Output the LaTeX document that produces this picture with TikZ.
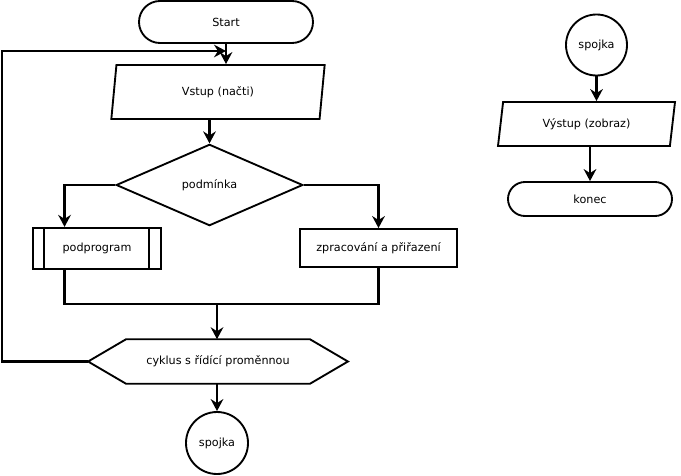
\documentclass[tikz,border=0pt]{standalone}
\usepackage{fontspec}
\setmainfont{DejaVu Sans}
\usepackage{tikz}
\usetikzlibrary{shapes.geometric}
\usetikzlibrary{shapes.misc}
\usetikzlibrary{arrows.meta}
\usetikzlibrary{calc}

\tikzset{
  flow/.style={draw, line width=1.4pt, font=\fontsize{8.4}{10}\selectfont, inner sep=0.75pt},
  terminator/.style={flow, rounded rectangle},
  inout/.style={flow, trapezium, trapezium left angle=69, trapezium right angle=111, trapezium stretches body},
  decision/.style={flow, diamond, aspect=2.3},
  process/.style={flow, rectangle},
  joint/.style={flow, circle},
  arrowline/.style={line width=1.6pt, -{Stealth[length=9pt,width=9.5pt,inset=3pt]}},
  plainline/.style={line width=1.6pt}
}

\begin{document}
\begin{tikzpicture}[x=0.75pt,y=0.75pt,yscale=-1,xscale=1]
\useasboundingbox (0,0) rectangle (681,475);

%Shape: Terminator [id:start]
\draw (226,22) node [terminator, minimum width=132pt, minimum height=31.5pt] (start) {Start};

%Shape: Data [id:vstup]
\draw (218,92) node [inout, minimum width=160pt, minimum height=40.5pt] (vstup) {Vstup (načti)};

%Shape: Diamond [id:podminka]
\draw (209.5,185) node [decision, minimum width=140pt, minimum height=61pt] (cond) {podmínka};

%Shape: Predefined process [id:podprogram]
\draw (97,248.5) node [process, minimum width=96pt, minimum height=31pt] (sub) {podprogram};
\draw [flow] ([xshift=9pt]sub.north west) -- ([xshift=9pt]sub.south west);
\draw [flow] ([xshift=-9.75pt]sub.north east) -- ([xshift=-9.75pt]sub.south east);

%Shape: Rectangle [id:zpracovani]
\draw (378.5,248) node [process, minimum width=118pt, minimum height=28.5pt] (proc) {zpracování a přiřazení};

%Shape: Loop limit [id:cyklus]
\draw (218,361.5) node [flow, draw=none, minimum width=193.5pt, minimum height=32pt] (loop) {cyklus s řídící proměnnou};
\draw [flow] (loop.west) -- ([xshift=28.5pt]loop.north west) -- ([xshift=-28.5pt]loop.north east) -- (loop.east) -- ([xshift=-28.5pt]loop.south east) -- ([xshift=28.5pt]loop.south west) -- cycle;

%Shape: Circle [id:spojka1]
\draw (217,443) node [joint, minimum size=46.5pt] (joint1) {spojka};

%Shape: Circle [id:spojka2]
\draw (596.5,45) node [joint, minimum size=45.75pt] (joint2) {spojka};

%Shape: Data [id:vystup]
\draw (586.5,124) node [inout, minimum width=132.75pt, minimum height=33pt] (vystup) {Výstup (zobraz)};

%Shape: Terminator [id:konec]
\draw (590,199) node [terminator, minimum width=124.5pt, minimum height=25.5pt] (konec) {konec};

%Connectors
\coordinate (join) at (217,304);
\coordinate (back) at (2,51);

\draw [arrowline] (start.south) -- (start.south |- vstup.north);
\draw [arrowline] (vstup.south -| cond.north) -- (cond.north);
\draw [arrowline] (cond.west) -| ($(sub.north west)!0.25!(sub.north east)$);
\draw [arrowline] (cond.east) -| (proc.north);
\draw [plainline] ($(sub.south west)!0.25!(sub.south east)$) |- (join) -| (proc.south);
\draw [arrowline] (join) -- (join |- loop.north);
\draw [arrowline] (loop.west) -| (back) -- (start.south |- back);
\draw [arrowline] (loop.south -| joint1) -- (joint1.north);
\draw [arrowline] (joint2.south) -- (joint2.south |- vystup.north);
\draw [arrowline] (vystup.south -| konec) -- (konec.north);

\end{tikzpicture}
\end{document}
